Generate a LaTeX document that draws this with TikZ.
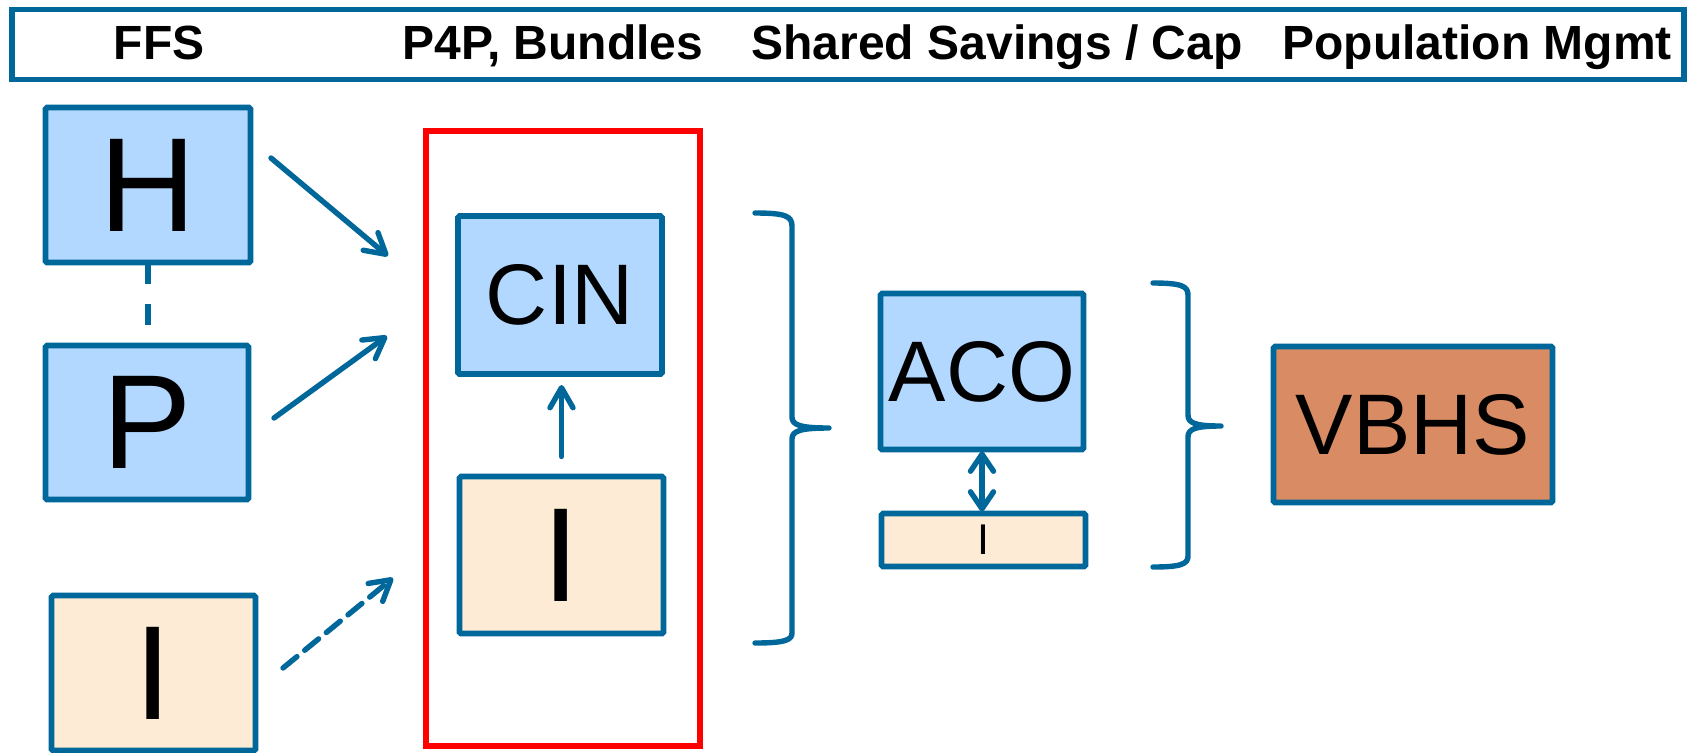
\documentclass[tikz,border=0pt]{standalone}
\usepackage{fontspec}
\setmainfont{Liberation Sans}
\usetikzlibrary{arrows.meta}
\definecolor{ublue}{RGB}{0,103,155}
\definecolor{lblue}{RGB}{178,216,255}
\definecolor{peach}{RGB}{253,235,213}
\definecolor{vorange}{RGB}{217,140,100}
\definecolor{gred}{RGB}{255,0,0}
\tikzset{
  box/.style={draw=ublue, line width=2.9pt, inner sep=0pt, outer sep=0pt, rounded corners=0.8pt},
  bluebox/.style={box, fill=lblue},
  peachbox/.style={box, fill=peach},
  bigtxt/.style={font=\fontsize{67}{67}\selectfont},
  midtxt/.style={font=\fontsize{43}{43}\selectfont},
  smalltxt/.style={font=\fontsize{21.5}{21.5}\selectfont},
  hdr/.style={anchor=base, inner sep=0pt, font=\bfseries\fontsize{24}{24}\selectfont},
  arr/.style={draw=ublue, line width=2.7pt, line cap=round, -{Straight Barb[length=10pt,width=11.5pt,round]}},
  arrtwo/.style={draw=ublue, line width=2.7pt, line cap=round, {Straight Barb[length=8.5pt,width=11.5pt,round]}-{Straight Barb[length=8.5pt,width=11.5pt,round]}},
  dashline/.style={draw=ublue, line width=2.7pt, dash pattern=on 10.5pt off 10pt},
  brace/.style={draw=ublue, line width=2.7pt, line cap=round, line join=round},
}
\begin{document}
\begin{tikzpicture}[x=0.5pt,y=-0.5pt]
\useasboundingbox (0,0) rectangle (1692,752);
% header bar
\node[draw=ublue, line width=2.7pt, fill=white, inner sep=0pt, outer sep=0pt,
      minimum width=836pt, minimum height=35pt] (bar) at (848,44.5) {};
\node[hdr] (t1) at (159,59) {FFS};
\node[hdr] (t2) at (553,59) {P4P, Bundles};
\node[hdr] (t3) at (997,59) {Shared Savings / Cap};
\node[hdr] (t4) at (1477,59) {Population Mgmt};
% left column
\node[bluebox, bigtxt, minimum width=102.5pt, minimum height=77.5pt] (H) at (148,185) {H};
\node[bluebox, bigtxt, minimum width=101.5pt, minimum height=77pt] (P) at (147,422.5) {P};
\node[peachbox, bigtxt, minimum width=102pt, minimum height=77.5pt] (I1) at (153.5,673) {I};
% red group
\node[draw=gred, line width=2.7pt, inner sep=0pt, outer sep=0pt,
      minimum width=137pt, minimum height=307.5pt] (grp) at (563,438.5) {};
\node[bluebox, midtxt, minimum width=102pt, minimum height=79pt] (CIN) at (560,295) {CIN};
\node[peachbox, bigtxt, minimum width=102pt, minimum height=78.5pt] (I2) at (561.5,555) {I};
% ACO
\node[bluebox, midtxt, minimum width=101.5pt, minimum height=78pt] (ACO) at (982,371.5) {ACO};
\node[peachbox, smalltxt, minimum width=102pt, minimum height=26.5pt] (I3) at (983.5,540) {I};
% VBHS
\node[box, fill=vorange, midtxt, minimum width=139.5pt, minimum height=78pt] (VBHS) at (1413,424.5) {VBHS};
% connectors
\draw[dashline] (H.south) -- (H.south |- P.north);
\coordinate (a1) at (271,158); \coordinate (a2) at (388,256);
\draw[arr] (a1) -- (a2);
\coordinate (b1) at (274,418); \coordinate (b2) at (387,336);
\draw[arr] (b1) -- (b2);
\coordinate (c1) at (283,668); \coordinate (c2) at (393,578);
\draw[arr, dash pattern=on 9pt off 5pt] (c1) -- (c2);
\draw[arr, shorten <=10pt, shorten >=5.5pt] (I2.north) -- (I2.north |- CIN.south);
\draw[arrtwo, shorten <=1pt, shorten >=1pt] (ACO.south) -- (ACO.south |- I3.north);
% braces
\draw[brace] (755,213) .. controls (785,213) and (792,216) .. (792,226) -- (792,417)
  .. controls (792,425) and (800,428) .. (829,428)
  .. controls (800,428) and (792,431) .. (792,439) -- (792,633)
  .. controls (792,640) and (785,643) .. (755,643);
\draw[brace] (1153,283) .. controls (1181,283) and (1188,286) .. (1188,295) -- (1188,415)
  .. controls (1188,423) and (1195,426) .. (1221,426)
  .. controls (1195,426) and (1188,429) .. (1188,437) -- (1188,556)
  .. controls (1188,564) and (1181,567) .. (1153,567);
\end{tikzpicture}
\end{document}
